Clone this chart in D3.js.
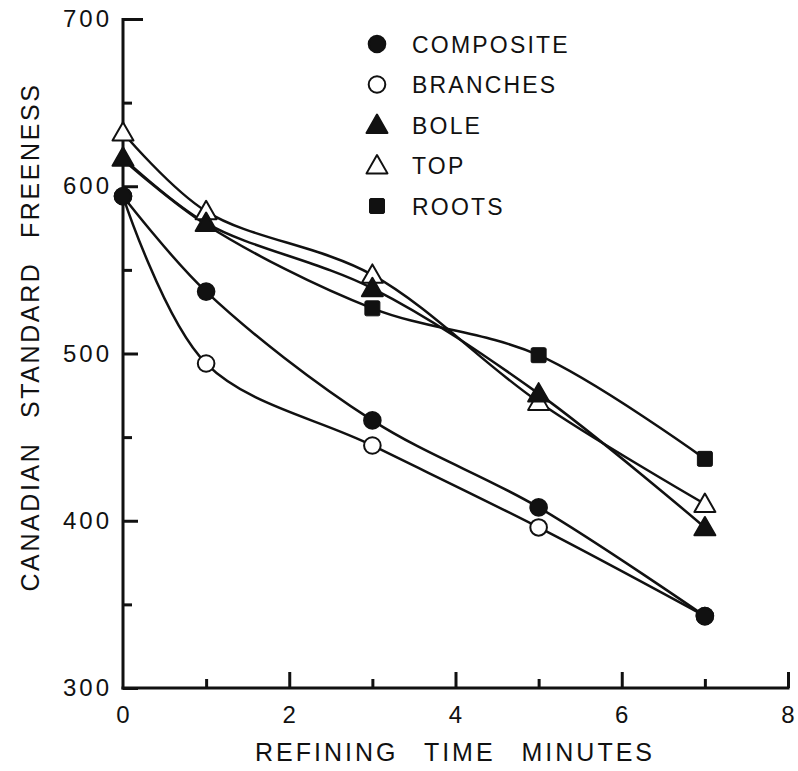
<!DOCTYPE html>
<html>
<head>
<meta charset="utf-8">
<script src="https://cdn.jsdelivr.net/npm/d3@7"></script>
<style>
  body { margin: 0; background: #fff; }
  svg text { font-family: "Liberation Sans", Arial, sans-serif; fill: #111; }
</style>
</head>
<body>
<div id="chart"></div>
<script>
// Data
const minutes = [0, 1, 3, 5, 7];
const composite = [594, 537, 460, 408, 343];
const branches = [594, 494, 445, 396, 343];
const bole = [617, 578, 539, 476, 396];
const top_ = [632, 585, 547, 471, 410];
const roots = [616, 577, 527, 499, 437];
const xTicks = [0, 2, 4, 6, 8];
const yTicks = [300, 400, 500, 600, 700];

const series = [
  {name: "COMPOSITE", values: composite, shape: "circle", fill: "#111"},
  {name: "BRANCHES", values: branches, shape: "circle", fill: "#fff"},
  {name: "BOLE", values: bole, shape: "triangle", fill: "#111"},
  {name: "TOP", values: top_, shape: "triangle", fill: "#fff"},
  {name: "ROOTS", values: roots, shape: "square", fill: "#111"}
];

const width = 798, height = 771;
const svg = d3.select("#chart").append("svg")
    .attr("width", width)
    .attr("height", height);

const x = d3.scaleLinear().domain([0, 8]).range([123, 788]);
const y = d3.scaleLinear().domain([300, 700]).range([688, 19]);

// Axes: ticks point inward
const axisStroke = 3;
const yAxis = svg.append("g").attr("transform", `translate(${x(0)},0)`)
    .call(d3.axisRight(y).tickValues(d3.range(300, 701, 50)).tickSize(0).tickFormat(""));
yAxis.select(".domain").remove();
yAxis.selectAll(".tick line")
    .attr("x2", d => d === 700 ? 20 : (d % 100 === 0 ? 15 : 9))
    .attr("stroke", "#111").attr("stroke-width", axisStroke);

const xAxis = svg.append("g").attr("transform", `translate(0,${y(300)})`)
    .call(d3.axisTop(x).tickValues(d3.range(1, 9)).tickSize(0).tickFormat(""));
xAxis.select(".domain").remove();
xAxis.selectAll(".tick line")
    .attr("y2", d => d % 2 === 0 ? -16 : -9)
    .attr("stroke", "#111").attr("stroke-width", axisStroke);

svg.append("line")
    .attr("x1", x(0)).attr("x2", x(0)).attr("y1", y(700) - 1).attr("y2", y(300) + 1.5)
    .attr("stroke", "#111").attr("stroke-width", axisStroke);
svg.append("line")
    .attr("x1", x(0) - 1.5).attr("x2", x(8) + 1.5).attr("y1", y(300)).attr("y2", y(300))
    .attr("stroke", "#111").attr("stroke-width", axisStroke);

// Tick labels
svg.selectAll(".ylab").data(yTicks).enter().append("text")
    .attr("x", x(0) - 11)
    .attr("y", d => y(d) + 8)
    .attr("text-anchor", "end")
    .style("font-size", "24px")
    .style("letter-spacing", "3px")
    .text(d => d);

svg.selectAll(".xlab").data(xTicks).enter().append("text")
    .attr("x", d => x(d))
    .attr("y", y(300) + 35)
    .attr("text-anchor", "middle")
    .style("font-size", "24px")
    .text(d => d);

// Axis titles
svg.append("text")
    .attr("x", 455).attr("y", 761)
    .attr("text-anchor", "middle")
    .style("font-size", "25px")
    .style("letter-spacing", "3px")
    .style("word-spacing", "16px")
    .text("REFINING TIME MINUTES");

svg.append("text")
    .attr("transform", "translate(39,337) rotate(-90)")
    .attr("text-anchor", "middle")
    .style("font-size", "25px")
    .style("letter-spacing", "2.6px")
    .style("word-spacing", "14px")
    .text("CANADIAN STANDARD FREENESS");

// Curves
const line = d3.line()
    .x((d, i) => x(minutes[i]))
    .y(d => y(d))
    .curve(d3.curveCatmullRom.alpha(0.5));

svg.selectAll(".curve").data(series).enter().append("path")
    .attr("d", d => line(d.values))
    .attr("fill", "none")
    .attr("stroke", "#111")
    .attr("stroke-width", 2.5);

// Markers
function drawMarker(g, shape, fill, cx, cy) {
  if (shape === "circle") {
    g.append("circle").attr("cx", cx).attr("cy", cy).attr("r", 8.3)
      .attr("fill", fill).attr("stroke", "#111").attr("stroke-width", 2);
  } else if (shape === "triangle") {
    const s = 10.5;
    g.append("path")
      .attr("d", `M${cx},${cy - s}L${cx + s},${cy + s * 0.75}L${cx - s},${cy + s * 0.75}Z`)
      .attr("fill", fill).attr("stroke", "#111").attr("stroke-width", 2).attr("stroke-linejoin", "round");
  } else {
    g.append("rect").attr("x", cx - 7.5).attr("y", cy - 7.5).attr("width", 15).attr("height", 15)
      .attr("rx", 1.5).attr("fill", fill).attr("stroke", "#111").attr("stroke-width", 1);
  }
}

// roots points that sit on a bole point are hidden beneath it in the figure
const draws = [
  {k: 1, skip: () => false},
  {k: 0, skip: () => false},
  {k: 4, skip: i => Math.abs(roots[i] - bole[i]) < 3},
  {k: 3, skip: () => false},
  {k: 2, skip: () => false}
];
draws.forEach(({k, skip}) => {
  const s = series[k];
  const g = svg.append("g");
  s.values.forEach((v, i) => {
    if (!skip(i)) drawMarker(g, s.shape, s.fill, x(minutes[i]), y(v));
  });
});

// Legend
const legend = svg.append("g");
series.forEach((s, i) => {
  const ly = 44 + i * 40.5;
  drawMarker(legend, s.shape, s.fill, 377, ly);
  legend.append("text")
    .attr("x", 412).attr("y", ly + 8.5)
    .style("font-size", "23px")
    .style("letter-spacing", "2.2px")
    .text(s.name);
});
</script>
</body>
</html>
